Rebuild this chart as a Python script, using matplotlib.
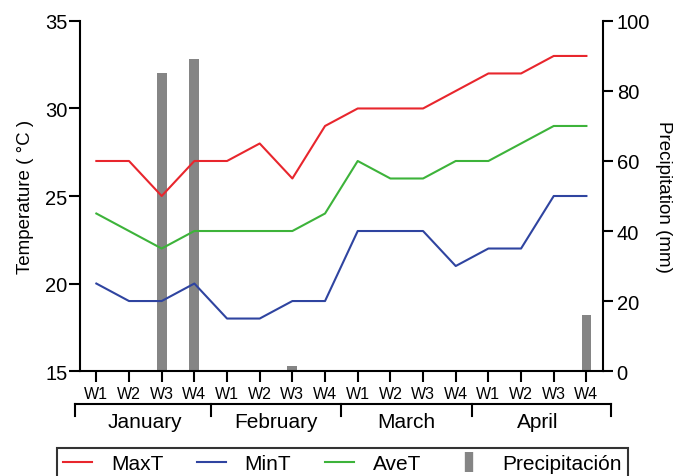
import numpy as np
import matplotlib.pyplot as plt
from matplotlib.lines import Line2D
import matplotlib.transforms as mtransforms

plt.rcParams['font.family'] = ['Liberation Sans', 'DejaVu Sans']

# Weekly climate data, January - April
weeks = ['W1', 'W2', 'W3', 'W4'] * 4
months = ['January', 'February', 'March', 'April']
max_t = [27, 27, 25, 27, 27, 28, 26, 29, 30, 30, 30, 31, 32, 32, 33, 33]
min_t = [20, 19, 19, 20, 18, 18, 19, 19, 23, 23, 23, 21, 22, 22, 25, 25]
ave_t = [24, 23, 22, 23, 23, 23, 23, 24, 27, 26, 26, 27, 27, 28, 29, 29]
precip = [0.4, 0.4, 85, 89, 0.4, 0.4, 1.5, 0.4, 0.4, 0.4, 0.4, 0.4, 0.4, 0.4, 0.4, 16]

x = np.arange(len(weeks))

fig = plt.figure(figsize=(6.78, 4.77), dpi=100)
ax = fig.add_axes([0.118, 0.22, 0.771, 0.734])
ax2 = ax.twinx()

# precipitation bars on the secondary axis, drawn behind the lines
ax2.bar(x, precip, width=0.3, color='#858585', zorder=1)
ax.set_zorder(ax2.get_zorder() + 1)
ax.patch.set_visible(False)

ax.plot(x, max_t, color='#e8262d', lw=1.5)
ax.plot(x, min_t, color='#2f44a0', lw=1.5)
ax.plot(x, ave_t, color='#3db33a', lw=1.5)

ax.set_xlim(-0.5, 15.5)
ax.set_ylim(15, 35)
ax2.set_ylim(0, 100)
ax.set_yticks([15, 20, 25, 30, 35])
ax2.set_yticks([0, 20, 40, 60, 80, 100])
ax.set_xticks(x)
ax.set_xticklabels(weeks)

for a in (ax, ax2):
    a.spines['top'].set_visible(False)
    for s in a.spines.values():
        s.set_linewidth(1.5)
ax.spines['right'].set_visible(False)
ax2.spines['left'].set_visible(False)
ax2.spines['bottom'].set_visible(False)

ax.tick_params(axis='y', labelsize=14.5, width=1.5, length=8, pad=1)
ax.tick_params(axis='x', labelsize=11.5, width=1.5, length=8, pad=3)
ax2.tick_params(axis='y', labelsize=14.5, width=1.5, length=7, pad=3)

ax.set_ylabel('Temperature ( °C )', fontsize=13.5, labelpad=8)
ax2.set_ylabel('Precipitation (mm)', fontsize=13.5, rotation=270, labelpad=16)

# month brackets under the week labels
trans = mtransforms.blended_transform_factory(ax.transData, ax.transAxes)
y_line = -0.095
y_tick = -0.128
edges = [-0.65, 3.5, 7.5, 11.5, 15.75]
ax.plot([edges[0], edges[-1]], [y_line, y_line], color='black', lw=1.5,
        transform=trans, clip_on=False)
for e in edges:
    ax.plot([e, e], [y_line, y_tick], color='black', lw=1.5,
            transform=trans, clip_on=False)
for i, m in enumerate(months):
    ax.text(4 * i + 1.5, -0.145, m, transform=trans, ha='center', va='center',
            fontsize=15)

handles = [
    Line2D([], [], color='#e8262d', lw=1.5),
    Line2D([], [], color='#2f44a0', lw=1.5),
    Line2D([], [], color='#3db33a', lw=1.5),
    Line2D([], [], color='#858585', marker='|', markersize=14, mew=6, lw=0),
]
leg = fig.legend(handles, ['MaxT', 'MinT', 'AveT', 'Precipitación'],
                 loc='upper center', bbox_to_anchor=(0.505, 0.059), ncol=4,
                 fontsize=15, frameon=True, fancybox=False, handlelength=1.4,
                 handletextpad=0.9, columnspacing=1.6, borderpad=0.3,
                 borderaxespad=0)
leg.get_frame().set_edgecolor('black')
leg.get_frame().set_linewidth(1.5)

fig.savefig('out.png', dpi=100)
